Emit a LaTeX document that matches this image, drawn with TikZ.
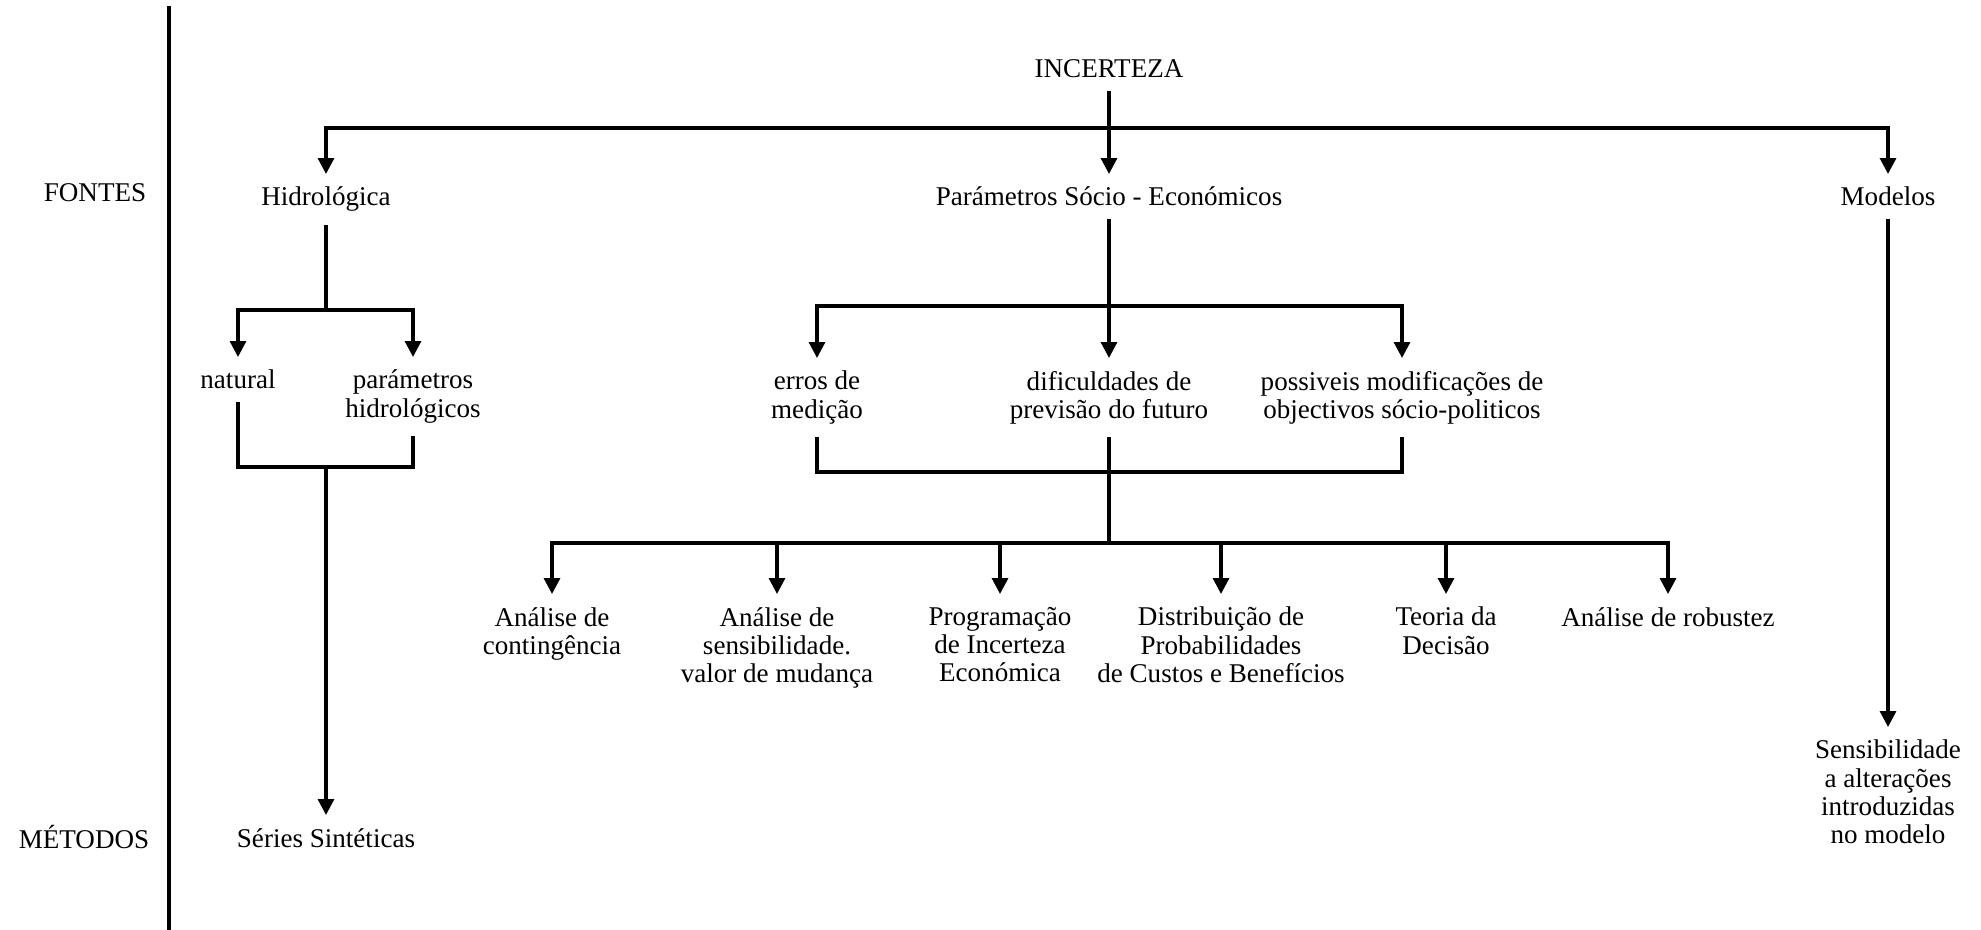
\documentclass[tikz,border=0pt]{standalone}
\usepackage{fontspec}
\setmainfont{Liberation Serif}
\usetikzlibrary{arrows.meta}
\begin{document}
\begin{tikzpicture}[line width=.9pt,>={Triangle[length=4.5pt,width=4.5pt]},
		every node/.style={font=\fontsize{7.7}{8}\selectfont},
		lbl/.style={anchor=north,align=center,inner sep=3.3pt}]
		\useasboundingbox (0,0) rectangle (19.81,-9.30);
		
		\node (fontes) at (0.95,-1.93) {FONTES};
		\node (metodos) at (0.84,-8.37) {MÉTODOS};
		\coordinate (divtop) at (1.69,-0.06); \coordinate (divbot) at (1.69,-9.30);
		\draw[line width=1.1pt] (divtop) -- (divbot);
		
		\node (inc) at (11.09,-0.69) {INCERTEZA};
		\coordinate (top) at (11.09,-1.28);
		\node[lbl] (hidro) at (3.26,-1.74) {Hidrológica};
		\node[lbl] (soc) at (11.09,-1.74) {Parámetros Sócio - Económicos};
		\node[lbl] (mod) at (18.88,-1.74) {Modelos};
		\draw[->] (inc) -- (soc);
		\draw[->] (top) -| (hidro); \draw[->] (top) -| (mod);
		
		% hidrologica
		\coordinate (hj) at (3.26,-3.10); \coordinate (hb) at (3.26,-4.67);
		\node[lbl] (nat) at (2.38,-3.57) {natural};
		\node[lbl] (parh) at (4.13,-3.57) {parámetros\\hidrológicos};
		\node[lbl] (series) at (3.26,-8.15) {Séries Sintéticas};
		\draw (hidro) -- (hj);
		\draw[->] (hj) -| (nat); \draw[->] (hj) -| (parh);
		\draw (nat) |- (hb) -| (parh);
		\draw[->] (hb) -- (series);
		
		% socio-economicos
		\coordinate (sj) at (11.09,-3.06); \coordinate (mb) at (11.09,-4.72);
		\coordinate (lowbar) at (11.09,-5.43);
		\node[lbl] (erros) at (8.17,-3.58) {erros de\\medição};
		\node[lbl] (dific) at (11.09,-3.58) {dificuldades de\\previsão do futuro};
		\node[lbl] (poss) at (14.02,-3.58) {possiveis modificações de\\objectivos sócio-politicos};
		\draw (soc) -- (sj);
		\draw[->] (sj) -| (erros); \draw[->] (sj) -- (dific); \draw[->] (sj) -| (poss);
		\draw (erros) |- (mb) -| (poss);
		\draw (dific) -- (lowbar);
		
		\node[lbl] (m1) at (5.52,-5.94) {Análise de\\contingência};
		\node[lbl] (m2) at (7.77,-5.94) {Análise de\\sensibilidade.\\valor de mudança};
		\node[lbl] (m3) at (10.00,-5.94) {Programação\\de Incerteza\\Económica};
		\node[lbl] (m4) at (12.21,-5.94) {Distribuição de\\Probabilidades\\de Custos e Benefícios};
		\node[lbl] (m5) at (14.46,-5.94) {Teoria da\\Decisão};
		\node[lbl] (m6) at (16.68,-5.94) {Análise de robustez};
		\foreach \m in {m1,m2,m3,m4,m5,m6}
		\draw[->] (lowbar) -| (\m);
		
		% modelos
		\node[lbl] (sens) at (18.88,-7.27) {Sensibilidade\\a alterações\\introduzidas\\no modelo};
		\draw[->] (mod) -- (sens);
\end{tikzpicture}
\end{document}
